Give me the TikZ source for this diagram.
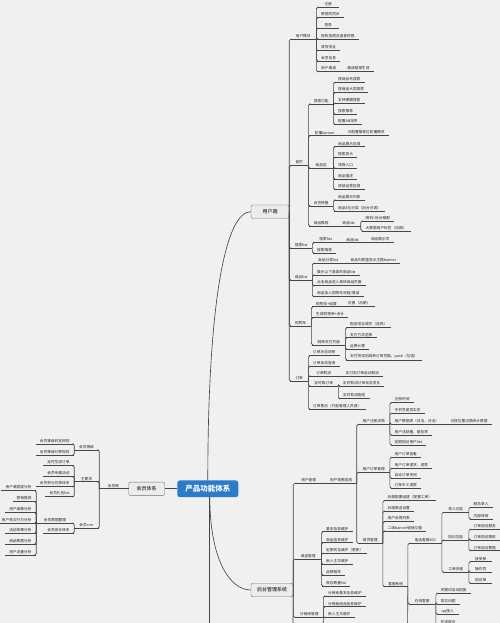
\documentclass[tikz,border=0pt]{standalone}
\usepackage{fontspec}
\setmainfont{Noto Sans CJK SC}
\usepackage{tikz}
\usetikzlibrary{positioning}
\definecolor{rootblue}{RGB}{43,123,201}
\definecolor{bggray}{RGB}{240,240,240}
\definecolor{linegray}{RGB}{70,70,70}
\definecolor{boxfill}{RGB}{236,236,236}
\definecolor{boxline}{RGB}{115,115,115}

\tikzset{
  link/.style={draw=linegray, line width=0.65pt, rounded corners=1.5pt},
  leaf/.style={anchor=south west, font=\fontsize{3.7}{4.4}\selectfont, text=black!85,
    inner xsep=4pt, inner ysep=1.2pt, minimum width=22pt,
    append after command={(\tikzlastnode.south west) edge[link] (\tikzlastnode.south east)}},
  lleaf/.style={leaf, anchor=south east},
  topic/.style={draw=boxline, fill=boxfill, rounded corners=2pt, font=\fontsize{5}{6}\selectfont,
    minimum width=36pt, minimum height=13.5pt, inner sep=2pt},
  root/.style={fill=rootblue, text=white, rounded corners=2.5pt, font=\fontsize{7.5}{9}\selectfont\bfseries,
    minimum width=61pt, minimum height=16.7pt}
}

\begin{document}
\begin{tikzpicture}[x=1pt, y=-1pt]
  \fill[bggray] (0,0) rectangle (500,623);
  \useasboundingbox (0,0) rectangle (500,623);

  % centre and the three main topics
  \node[root] (cpgn) at (207.8,488.8) {产品功能体系};
  \node[topic, minimum width=38] (yhd) at (270,211.7) {用户端};
  \node[topic] (hytx) at (146.7,488.8) {会员体系};
  \node[topic, minimum width=42] (htgl) at (272,590) {后台管理系统};
  \coordinate (cpend) at (209.8,630);
  \coordinate (htend) at (293,630);

  \draw[link] (cpgn.north) to[out=90, in=180, out distance=180, in distance=25] (yhd.west);
  \draw[link] ([xshift=2pt]cpgn.south) to[out=-90, in=180, out distance=60, in distance=22] (htgl.west);
  \draw[link] ([xshift=2pt]cpgn.south) -- (cpend);
  \draw[link] (cpgn.west) -- (hytx.east);

  % ---- 用户端 ----
  \node[leaf, minimum width=26] (yhmk) at (290,39.3) {用户模块};
  \node[leaf] (zc) at (317,7.3) {注册};
  \node[leaf] (tb) at (317,17.7) {数据的同步};
  \node[leaf] (dl) at (317,28.3) {登录};
  \node[leaf] (sq) at (317,39.3) {授权拍照及语音权限};
  \node[leaf] (dz) at (317,50.7) {收货地址};
  \node[leaf] (hyxx) at (317,61) {会员信息};
  \node[leaf] (yhyq) at (317,71.7) {用户邀请};
  \node[right=3pt of yhyq.south east, leaf] (yqlj) {邀请链接生成};

  \node[leaf, minimum width=18] (sy) at (290,165.7) {首页};
  \node[leaf, minimum width=24] (ssgn) at (309,104) {搜索功能};
  \node[leaf] (ss1) at (334,82.3) {搜商品名搜索};
  \node[leaf] (ss2) at (334,92.7) {搜商品大类搜索};
  \node[leaf] (ss3) at (334,103.3) {支持模糊搜索};
  \node[leaf] (ss4) at (334,114) {搜索推荐};
  \node[leaf] (ss5) at (334,124.3) {配置AB排序};
  \node[leaf, minimum width=31] (lbbn) at (309,135.7) {轮播banner};
  \node[right=3pt of lbbn.south east, leaf] (tjw) {可配置推荐位轮播模块};
  \node[leaf, minimum width=24] (spq) at (309,168.3) {商品区};
  \node[leaf] (sq1) at (334,146.7) {商品展示区域};
  \node[leaf] (sq2) at (334,157.3) {搜索显示};
  \node[leaf] (sq3) at (334,168.3) {领券入口};
  \node[leaf] (sq4) at (334,179) {商品描述};
  \node[leaf] (sq5) at (334,189.3) {底部运营区域};
  \node[leaf, minimum width=24] (hyth) at (309,206) {会员特惠};
  \node[leaf] (th1) at (334,200) {商品展示列表};
  \node[leaf] (th2) at (334,211) {商品4位分类（后台可调）};
  \node[leaf, minimum width=24] (sptj) at (309,226) {商品推荐};
  \node[right=3pt of sptj.south east, leaf, minimum width=24] (tjlist) {商品list};
  \node[leaf] (tj1) at (361.5,221) {随机+后台精配};
  \node[leaf] (tj2) at (361.5,231) {大数据用户标签（后期）};

  \node[leaf] (sslist) at (290,248.3) {搜索list};
  \node[leaf, minimum width=25] (sslb) at (313,242.7) {搜索list};
  \node[right=3pt of sslb.south east, leaf] (sslb2) {商品list};
  \node[right=3pt of sslb2.south east, leaf] (sslb3) {商品展示页};
  \node[leaf] (sstj) at (313,253.3) {搜索推荐};

  \node[leaf] (splist) at (290,280) {商品list};
  \node[leaf, minimum width=30] (spfl) at (313,263.3) {商品分类list};
  \node[right=3pt of spfl.south east, leaf] (spbn) {商品列表里显示主题banner};
  \node[leaf] (sp2) at (313,275) {展示以下具体的商品list};
  \node[leaf] (sp3) at (313,285.7) {点击商品进入具体商品页面};
  \node[leaf] (sp4) at (313,296.7) {商品加入购物车流程/增减};

  \node[leaf, minimum width=21] (gwc) at (290,326) {购物车};
  \node[leaf, minimum width=26] (gwlb) at (312,306.7) {购物车+结算};
  \node[right=3pt of gwlb.south east, leaf] (yhgn) {优惠（后期）};
  \node[leaf] (gwmx) at (312,317.7) {生成购物单+合计};
  \node[leaf, minimum width=33] (zfym) at (312,345) {跳转支付页面};
  \node[leaf] (zf1) at (346,327.7) {配送地址填写（选择）};
  \node[leaf] (zf2) at (346,337.7) {支付方式选择};
  \node[leaf] (zf3) at (346,349.3) {运费计算};
  \node[leaf] (zf4) at (346,360) {支付完成后跳转订单页面，push（勾选）};

  \node[leaf, minimum width=18] (dd) at (290,381) {订单};
  \node[leaf] (dd1) at (309,355.7) {订单状态说明};
  \node[leaf] (dd2) at (309,366.3) {订单状态查询};
  \node[leaf, minimum width=29] (ddqx) at (309,376) {订单取消};
  \node[right=3pt of ddqx.south east, leaf] (ddqx2) {支付前订单自动取消};
  \node[leaf, minimum width=29] (dsqd) at (309,386.3) {定时取订单};
  \node[leaf] (ds1) at (339,386.3) {定时取消订单状态变化};
  \node[leaf] (ds2) at (339,398.7) {定时取消配送};
  \node[leaf] (ddsh) at (309,409.3) {订单售后（只能管理人员退）};

  \foreach \c in {yhmk,sy,sslist,splist,gwc,dd}
    \draw[link] (yhd.east) |- (\c.south west);
  \foreach \c in {zc,tb,dl,sq,dz,hyxx,yhyq}
    \draw[link] (yhmk.south east) |- (\c.south west);
  \foreach \c in {ssgn,lbbn,spq,hyth,sptj}
    \draw[link] (sy.south east) |- (\c.south west);
  \foreach \c in {ss1,ss2,ss3,ss4,ss5}
    \draw[link] (ssgn.south east) |- (\c.south west);
  \foreach \c in {sq1,sq2,sq3,sq4,sq5}
    \draw[link] (spq.south east) |- (\c.south west);
  \foreach \c in {th1,th2}
    \draw[link] (hyth.south east) |- (\c.south west);
  \foreach \c in {tj1,tj2}
    \draw[link] (tjlist.south east) |- (\c.south west);
  \foreach \c in {sslb,sstj}
    \draw[link] (sslist.south east) |- (\c.south west);
  \foreach \c in {spfl,sp2,sp3,sp4}
    \draw[link] (splist.south east) |- (\c.south west);
  \foreach \c in {gwlb,gwmx,zfym}
    \draw[link] (gwc.south east) |- (\c.south west);
  \foreach \c in {zf1,zf2,zf3,zf4}
    \draw[link] (zfym.south east) |- (\c.south west);
  \foreach \c in {dd1,dd2,ddqx,dsqd,ddsh}
    \draw[link] (dd.south east) |- (\c.south west);
  \foreach \c in {ds1,ds2}
    \draw[link] (dsqd.south east) |- (\c.south west);
  \foreach \a/\b in {yhyq/yqlj,lbbn/tjw,sptj/tjlist,sslb/sslb2,sslb2/sslb3,spfl/spbn,gwlb/yhgn,ddqx/ddqx2}
    \draw[link] (\a.south east) -- (\b.south west);

  % ---- 后台管理系统 ----
  \node[leaf, minimum width=27] (yhgl) at (295,483.3) {用户管理};
  \node[right=3pt of yhgl.south east, leaf, minimum width=31] (yhzs) {用户增删查改};
  \node[leaf, minimum width=32] (zcxq) at (357.5,424.3) {用户注册详情};
  \node[leaf] (zx1) at (390.5,402.7) {注册时间};
  \node[leaf] (zx2) at (390.5,413.3) {手机号是否实名};
  \node[leaf] (zx3) at (390.5,424.3) {用户数据表（日活、月活）};
  \node[right=3pt of zx3.south east, leaf] (zx3b) {可按位置切换统计数据};
  \node[leaf] (zx4) at (390.5,435) {用户活跃量、留存率};
  \node[leaf] (zx5) at (390.5,445) {定期回访用户list};
  \node[leaf, minimum width=32] (ddgl) at (357.5,472.3) {用户订单管理};
  \node[leaf] (dg1) at (390.5,457.3) {用户订单查看};
  \node[leaf] (dg2) at (390.5,468.3) {用户订单退货、退款};
  \node[leaf] (dg3) at (390.5,478.3) {自动订单关闭};
  \node[leaf] (dg4) at (390.5,488.3) {订单手工退款};
  \node[leaf, minimum width=25] (sygl) at (357.5,543.3) {首页管理};
  \node[leaf] (sg1) at (383.5,500.7) {后端配置组建（配置工单）};
  \node[leaf] (sg2) at (383.5,511) {后端推送设置};
  \node[leaf] (sg3) at (383.5,521.7) {用户反馈列表};
  \node[leaf] (sg4) at (383.5,531) {二级banner链接功能};
  \node[leaf, minimum width=24] (kfxt) at (383.5,586.7) {客服系统};
  \node[leaf, minimum width=33] (dhkf) at (408.5,543.3) {电话客服400};
  \node[leaf, minimum width=27] (zxkf) at (408.5,604) {在线客服};
  \coordinate (kfend) at (407.5,630);
  \node[leaf, minimum width=26] (lrgn) at (442.5,512.3) {录入功能};
  \node[leaf, minimum width=26] (hfgn) at (442.5,540) {回访功能};
  \node[leaf, minimum width=26] (gdlc) at (442.5,572.3) {工单流程};
  \node[leaf] (lr1) at (469.5,507.3) {服务录入};
  \node[leaf] (lr2) at (469.5,519) {内部转接};
  \node[leaf] (hf1) at (469.5,529.3) {订单回访服务};
  \node[leaf] (hf2) at (469.5,540) {订单回访跟进};
  \node[leaf] (hf3) at (469.5,550.7) {订单回访数据};
  \node[leaf] (gd1) at (469.5,561.7) {接受单};
  \node[leaf] (gd2) at (469.5,572.3) {操作员};
  \node[leaf] (gd3) at (469.5,583.3) {回访单};
  \node[leaf] (zk1) at (436.5,593.3) {关键词自动回复};
  \node[leaf] (zk2) at (436.5,604.3) {常见问题};
  \node[leaf] (zk3) at (436.5,614.3) {qq接入};
  \node[leaf] (zk4) at (436.5,624.8) {在线留言};

  \node[leaf, minimum width=26] (spgl) at (295,559.3) {商品管理};
  \node[leaf] (gl1) at (322,531.7) {基本信息维护};
  \node[leaf] (gl2) at (322,542.7) {商品信息维护};
  \node[leaf] (gl3) at (322,553.3) {定期优化维护（更新）};
  \node[leaf] (gl4) at (322,564.3) {新入主次维护};
  \node[leaf] (gl5) at (322,575) {品牌相关};
  \node[leaf] (gl6) at (322,586) {库存数量list};

  \node[leaf, minimum width=28] (fxgl) at (295,617.3) {分销商管理};
  \node[leaf] (fx1) at (324,596) {分销商基本信息维护};
  \node[leaf] (fx2) at (324,606.7) {分销商商品信息维护};
  \node[leaf] (fx3) at (324,617.7) {新入主次维护};
  \coordinate (fxend) at (323,630);

  \foreach \c in {yhgl,spgl,fxgl}
    \draw[link] (htgl.east) |- (\c.south west);
  \draw[link] (htgl.east) -- (htend);
  \draw[link] (yhgl.south east) -- (yhzs.south west);
  \foreach \c in {zcxq,ddgl,sygl}
    \draw[link] (yhzs.south east) |- (\c.south west);
  \foreach \c in {zx1,zx2,zx3,zx4,zx5}
    \draw[link] (zcxq.south east) |- (\c.south west);
  \draw[link] (zx3.south east) -- (zx3b.south west);
  \foreach \c in {dg1,dg2,dg3,dg4}
    \draw[link] (ddgl.south east) |- (\c.south west);
  \foreach \c in {sg1,sg2,sg3,sg4,kfxt}
    \draw[link] (sygl.south east) |- (\c.south west);
  \foreach \c in {dhkf,zxkf}
    \draw[link] (kfxt.south east) |- (\c.south west);
  \draw[link] (kfxt.south east) -- (kfend);
  \foreach \c in {lrgn,hfgn,gdlc}
    \draw[link] (dhkf.south east) |- (\c.south west);
  \foreach \c in {lr1,lr2}
    \draw[link] (lrgn.south east) |- (\c.south west);
  \foreach \c in {hf1,hf2,hf3}
    \draw[link] (hfgn.south east) |- (\c.south west);
  \foreach \c in {gd1,gd2,gd3}
    \draw[link] (gdlc.south east) |- (\c.south west);
  \foreach \c in {zk1,zk2,zk3,zk4}
    \draw[link] (zxkf.south east) |- (\c.south west);
  \foreach \c in {gl1,gl2,gl3,gl4,gl5,gl6}
    \draw[link] (spgl.south east) |- (\c.south west);
  \foreach \c in {fx1,fx2,fx3}
    \draw[link] (fxgl.south east) |- (\c.south west);
  \draw[link] (fxgl.south east) -- (fxend);

  % ---- 会员体系 (left side) ----
  \node[lleaf, minimum width=28] (hyz) at (127.7,488.8) {会员制};
  \node[lleaf, minimum width=24] (hydj) at (98.7,450) {会员等级};
  \node[lleaf] (dj1) at (73.7,444) {会员等级判定规则};
  \node[lleaf] (dj2) at (73.7,455) {会员等级升降规则};
  \node[lleaf, minimum width=24] (zyq) at (98.7,481.7) {主要求};
  \node[lleaf] (qy1) at (73.7,465.7) {定时生成订单};
  \node[lleaf] (qy2) at (73.7,476.7) {会员专属活动};
  \node[lleaf] (qy3) at (73.7,486.7) {会员积分兑换体系};
  \node[lleaf] (qy4) at (73.7,496.7) {会员礼包list};
  \node[lleaf, minimum width=24] (hycrm) at (98.7,528.3) {会员crm};
  \node[lleaf, minimum width=37] (hysj) at (73.7,523.3) {会员数据整理};
  \node[lleaf] (hycz) at (73.7,533.3) {会员成长体系};
  \node[lleaf] (fx_a) at (35.7,490.7) {用户满意度分析};
  \node[lleaf] (fx_b) at (35.7,501.7) {营销推荐};
  \node[lleaf] (fx_c) at (35.7,512.7) {用户画像分析};
  \node[lleaf] (fx_d) at (35.7,523.3) {用户购买行为分析};
  \node[lleaf] (fx_e) at (35.7,533.3) {活动效果分析};
  \node[lleaf] (fx_f) at (35.7,544) {商品数据分析};
  \node[lleaf] (fx_g) at (35.7,555) {用户流量分析};

  \draw[link] (hytx.west) -- (hyz.south east);
  \foreach \c in {hydj,zyq,hycrm}
    \draw[link] (hyz.south west) |- (\c.south east);
  \foreach \c in {dj1,dj2}
    \draw[link] (hydj.south west) |- (\c.south east);
  \foreach \c in {qy1,qy2,qy3,qy4}
    \draw[link] (zyq.south west) |- (\c.south east);
  \foreach \c in {hysj,hycz}
    \draw[link] (hycrm.south west) |- (\c.south east);
  \foreach \c in {fx_a,fx_b,fx_c,fx_d,fx_e,fx_f,fx_g}
    \draw[link] (hysj.south west) |- (\c.south east);
\end{tikzpicture}
\end{document}
